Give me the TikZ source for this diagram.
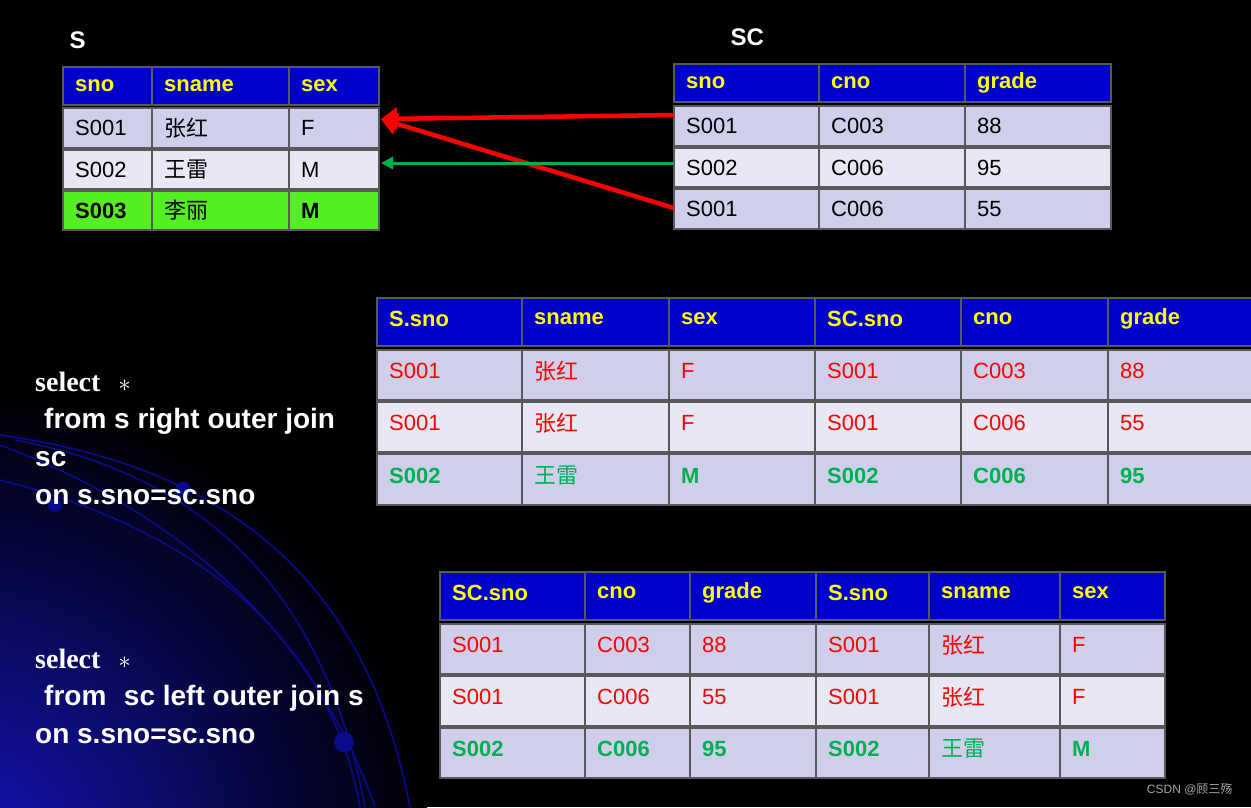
\documentclass[tikz,border=0pt]{standalone}
\usepackage{fontspec}
\setmainfont{Liberation Sans}
\newfontfamily\cjk{Noto Sans CJK SC}
\newfontfamily\serifb{Liberation Serif}
\usetikzlibrary{arrows.meta}
\definecolor{hdr}{RGB}{0,0,204}
\definecolor{rowa}{RGB}{207,207,235}
\definecolor{rowb}{RGB}{232,232,244}
\definecolor{sgreen}{RGB}{85,238,34}
\definecolor{tgreen}{RGB}{0,176,80}
\definecolor{hyel}{RGB}{255,255,0}
\definecolor{arcblue}{RGB}{10,10,140}
\definecolor{glowblue}{RGB}{20,20,190}
\tikzset{
  cellbox/.style={draw=gray!70!black,line width=1.5pt},
  celltxt/.style={anchor=west,inner sep=0pt,font=\fontsize{22}{24}\selectfont},
  hdrtxt/.style={celltxt,text=hyel,font=\fontsize{22}{24}\selectfont\bfseries},
  sqltxt/.style={anchor=west,inner sep=0pt,text=white,font=\fontsize{28}{30}\selectfont\bfseries},
  redarr/.style={red,line width=4.5pt,-{Triangle[length=16pt,width=22pt]}},
  grnarr/.style={tgreen,line width=3pt,-{Triangle[length=12pt,width=12pt]}},
  arcline/.style={draw=arcblue,line width=1.6pt}
}
% \mycell{name}{x1}{y1}{x2}{y2}{fill}{style}{text}{dy}
\newcommand{\mycell}[9]{%
  \fill[#6] (#2,#3) rectangle (#4,#5);
  \draw[cellbox] (#2,#3) rectangle (#4,#5);
  \node[#7] (#1) at ({#2+12},{(#3+#5)/2+#9}) {#8};}
\begin{document}
\begin{tikzpicture}[x=1pt,y=-1pt]
\useasboundingbox (0,0) rectangle (1251,807);
\fill[black] (0,0) rectangle (1251,807);
\begin{scope}
\clip (0,0) rectangle (1251,807);
\fill[inner color=glowblue,outer color=black] (-40,860) circle (470);
\draw[arcline] (0,435) .. controls (250,470) and (370,600) .. (410,807);
\draw[arcline] (0,445) .. controls (200,520) and (320,650) .. (375,807);
\draw[arcline] (15,440) .. controls (230,480) and (330,620) .. (365,807);
\draw[arcline] (0,480) .. controls (200,530) and (330,640) .. (360,807);
\fill[arcblue] (183,490) circle (8);
\fill[arcblue] (55,505) circle (7);
\fill[arcblue] (344,742) circle (10);
\end{scope}
% Titles
\node[anchor=west,text=white,font=\fontsize{24}{26}\selectfont\bfseries] (tS) at (66,40) {S};
\node[anchor=west,text=white,font=\fontsize{24}{26}\selectfont\bfseries] (tSC) at (727,37) {SC};
% Table S
\mycell{sh1}{63}{67}{152}{105}{hdr}{hdrtxt}{sno}{0}
\mycell{sh2}{152}{67}{289}{105}{hdr}{hdrtxt}{sname}{0}
\mycell{sh3}{289}{67}{379}{105}{hdr}{hdrtxt}{sex}{0}
\mycell{s11}{63}{108}{152}{148}{rowa}{celltxt}{S001}{0}
\mycell{s12}{152}{108}{289}{148}{rowa}{celltxt}{\cjk 张红}{0}
\mycell{s13}{289}{108}{379}{148}{rowa}{celltxt}{F}{0}
\mycell{s21}{63}{150}{152}{189}{rowb}{celltxt}{S002}{0}
\mycell{s22}{152}{150}{289}{189}{rowb}{celltxt}{\cjk 王雷}{0}
\mycell{s23}{289}{150}{379}{189}{rowb}{celltxt}{M}{0}
\mycell{s31}{63}{191}{152}{230}{sgreen}{celltxt}{\bfseries S003}{0}
\mycell{s32}{152}{191}{289}{230}{sgreen}{celltxt}{\cjk 李丽}{0}
\mycell{s33}{289}{191}{379}{230}{sgreen}{celltxt}{\bfseries M}{0}
% Table SC
\mycell{ch1}{674}{64}{819}{102}{hdr}{hdrtxt}{sno}{0}
\mycell{ch2}{819}{64}{965}{102}{hdr}{hdrtxt}{cno}{0}
\mycell{ch3}{965}{64}{1111}{102}{hdr}{hdrtxt}{grade}{0}
\mycell{c11}{674}{106}{819}{146}{rowa}{celltxt}{S001}{0}
\mycell{c12}{819}{106}{965}{146}{rowa}{celltxt}{C003}{0}
\mycell{c13}{965}{106}{1111}{146}{rowa}{celltxt}{88}{0}
\mycell{c21}{674}{148}{819}{187}{rowb}{celltxt}{S002}{0}
\mycell{c22}{819}{148}{965}{187}{rowb}{celltxt}{C006}{0}
\mycell{c23}{965}{148}{1111}{187}{rowb}{celltxt}{95}{0}
\mycell{c31}{674}{189}{819}{229}{rowa}{celltxt}{S001}{0}
\mycell{c32}{819}{189}{965}{229}{rowa}{celltxt}{C006}{0}
\mycell{c33}{965}{189}{1111}{229}{rowa}{celltxt}{55}{0}
% arrows
\coordinate (c1w) at (674,115);
\coordinate (c3w) at (674,208);
\coordinate (c2w) at (674,163);
\coordinate (s1e) at (381,119);
\coordinate (s2e) at (381,163);
\draw[redarr] (c1w) -- (s1e);
\draw[redarr] (c3w) -- (s1e);
\draw[grnarr] (c2w) -- (s2e);
% Join table 1
\mycell{ah1}{377}{298}{522}{346}{hdr}{hdrtxt}{S.sno}{-3}
\mycell{ah2}{522}{298}{669}{346}{hdr}{hdrtxt}{sname}{-3}
\mycell{ah3}{669}{298}{815}{346}{hdr}{hdrtxt}{sex}{-3}
\mycell{ah4}{815}{298}{961}{346}{hdr}{hdrtxt}{SC.sno}{-3}
\mycell{ah5}{961}{298}{1108}{346}{hdr}{hdrtxt}{cno}{-3}
\mycell{ah6}{1108}{298}{1255}{346}{hdr}{hdrtxt}{grade}{-3}
\mycell{a11}{377}{350}{522}{400}{rowa}{celltxt,text=red}{S001}{-4}
\mycell{a12}{522}{350}{669}{400}{rowa}{celltxt,text=red}{\cjk 张红}{-4}
\mycell{a13}{669}{350}{815}{400}{rowa}{celltxt,text=red}{F}{-4}
\mycell{a14}{815}{350}{961}{400}{rowa}{celltxt,text=red}{S001}{-4}
\mycell{a15}{961}{350}{1108}{400}{rowa}{celltxt,text=red}{C003}{-4}
\mycell{a16}{1108}{350}{1255}{400}{rowa}{celltxt,text=red}{88}{-4}
\mycell{a21}{377}{402}{522}{452}{rowb}{celltxt,text=red}{S001}{-4}
\mycell{a22}{522}{402}{669}{452}{rowb}{celltxt,text=red}{\cjk 张红}{-4}
\mycell{a23}{669}{402}{815}{452}{rowb}{celltxt,text=red}{F}{-4}
\mycell{a24}{815}{402}{961}{452}{rowb}{celltxt,text=red}{S001}{-4}
\mycell{a25}{961}{402}{1108}{452}{rowb}{celltxt,text=red}{C006}{-4}
\mycell{a26}{1108}{402}{1255}{452}{rowb}{celltxt,text=red}{55}{-4}
\mycell{a31}{377}{454}{522}{505}{rowa}{celltxt,text=tgreen}{\bfseries S002}{-4}
\mycell{a32}{522}{454}{669}{505}{rowa}{celltxt,text=tgreen}{\cjk 王雷}{-4}
\mycell{a33}{669}{454}{815}{505}{rowa}{celltxt,text=tgreen}{\bfseries M}{-4}
\mycell{a34}{815}{454}{961}{505}{rowa}{celltxt,text=tgreen}{\bfseries S002}{-4}
\mycell{a35}{961}{454}{1108}{505}{rowa}{celltxt,text=tgreen}{\bfseries C006}{-4}
\mycell{a36}{1108}{454}{1255}{505}{rowa}{celltxt,text=tgreen}{\bfseries 95}{-4}
% Join table 2
\mycell{bh1}{440}{572}{585}{620}{hdr}{hdrtxt}{SC.sno}{-3}
\mycell{bh2}{585}{572}{690}{620}{hdr}{hdrtxt}{cno}{-3}
\mycell{bh3}{690}{572}{816}{620}{hdr}{hdrtxt}{grade}{-3}
\mycell{bh4}{816}{572}{929}{620}{hdr}{hdrtxt}{S.sno}{-3}
\mycell{bh5}{929}{572}{1060}{620}{hdr}{hdrtxt}{sname}{-3}
\mycell{bh6}{1060}{572}{1165}{620}{hdr}{hdrtxt}{sex}{-3}
\mycell{b11}{440}{624}{585}{674}{rowa}{celltxt,text=red}{S001}{-4}
\mycell{b12}{585}{624}{690}{674}{rowa}{celltxt,text=red}{C003}{-4}
\mycell{b13}{690}{624}{816}{674}{rowa}{celltxt,text=red}{88}{-4}
\mycell{b14}{816}{624}{929}{674}{rowa}{celltxt,text=red}{S001}{-4}
\mycell{b15}{929}{624}{1060}{674}{rowa}{celltxt,text=red}{\cjk 张红}{-4}
\mycell{b16}{1060}{624}{1165}{674}{rowa}{celltxt,text=red}{F}{-4}
\mycell{b21}{440}{676}{585}{726}{rowb}{celltxt,text=red}{S001}{-4}
\mycell{b22}{585}{676}{690}{726}{rowb}{celltxt,text=red}{C006}{-4}
\mycell{b23}{690}{676}{816}{726}{rowb}{celltxt,text=red}{55}{-4}
\mycell{b24}{816}{676}{929}{726}{rowb}{celltxt,text=red}{S001}{-4}
\mycell{b25}{929}{676}{1060}{726}{rowb}{celltxt,text=red}{\cjk 张红}{-4}
\mycell{b26}{1060}{676}{1165}{726}{rowb}{celltxt,text=red}{F}{-4}
\mycell{b31}{440}{728}{585}{778}{rowa}{celltxt,text=tgreen}{\bfseries S002}{-4}
\mycell{b32}{585}{728}{690}{778}{rowa}{celltxt,text=tgreen}{\bfseries C006}{-4}
\mycell{b33}{690}{728}{816}{778}{rowa}{celltxt,text=tgreen}{\bfseries 95}{-4}
\mycell{b34}{816}{728}{929}{778}{rowa}{celltxt,text=tgreen}{\bfseries S002}{-4}
\mycell{b35}{929}{728}{1060}{778}{rowa}{celltxt,text=tgreen}{\cjk 王雷}{-4}
\mycell{b36}{1060}{728}{1165}{778}{rowa}{celltxt,text=tgreen}{\bfseries M}{-4}
% SQL text
\node[sqltxt,font=\fontsize{28}{30}\selectfont\serifb\bfseries] (q1a) at (35,382) {select\hspace{18pt}{\normalfont\fontsize{24}{26}\selectfont $\ast$}};
\node[sqltxt] (q1b) at (44,421) {from s right outer join};
\node[sqltxt] (q1c) at (35,459) {sc};
\node[sqltxt] (q1d) at (35,497) {on s.sno=sc.sno};
\node[sqltxt,font=\fontsize{28}{30}\selectfont\serifb\bfseries] (q2a) at (35,659) {select\hspace{18pt}{\normalfont\fontsize{24}{26}\selectfont $\ast$}};
\node[sqltxt] (q2b) at (44,698) {from\hspace{0.35em} sc left outer join s};
\node[sqltxt] (q2c) at (35,736) {on s.sno=sc.sno};
% watermark
\node[anchor=east,text=gray!70,font=\fontsize{12}{14}\selectfont] (wm) at (1236,789) {CSDN @{\cjk 顾三殇}};
\end{tikzpicture}
\end{document}
